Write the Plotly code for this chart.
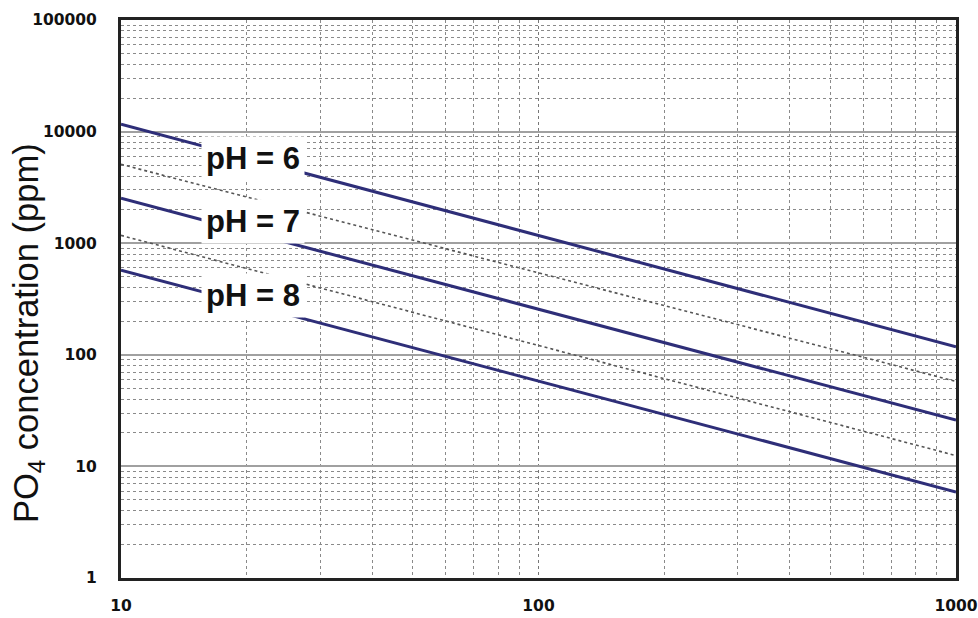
import plotly.graph_objects as go

# ---- data ----
x_ends = [10, 1000]
ph6 = [11650, 118]
ph7 = [2525, 26]
ph8 = [574, 5.9]
ph65 = [5090, 57.8]
ph75 = [1175, 12.5]

x_ticks = [10, 100, 1000]
x_ticktext = ["10", "100", "1000"]
y_ticks = [1, 10, 100, 1000, 10000, 100000]
y_ticktext = ["1", "10", "100", "1000", "10000", "100000"]

labels = ["pH = 6", "pH = 7", "pH = 8"]
label_x = [0.158, 0.158, 0.158]
label_y = [0.752, 0.638, 0.506]

NAVY = "#2E2E78"
DOT = "#555555"

fig = go.Figure()
for ys in (ph65, ph75):
    fig.add_trace(go.Scatter(x=x_ends, y=ys, mode="lines",
                             line=dict(color=DOT, width=1.6, dash="dot"),
                             showlegend=False, hoverinfo="skip"))
for ys in (ph6, ph7, ph8):
    fig.add_trace(go.Scatter(x=x_ends, y=ys, mode="lines",
                             line=dict(color=NAVY, width=3),
                             showlegend=False, hoverinfo="skip"))

for t, lx, ly in zip(labels, label_x, label_y):
    fig.add_annotation(x=lx, y=ly, xref="paper", yref="paper", text="<b>%s</b>" % t,
                       showarrow=False, xanchor="center", yanchor="middle",
                       bgcolor="white", borderpad=4,
                       font=dict(family="Liberation Sans", size=31, color="#111111"))

fig.add_annotation(x=-0.1114, y=0.439, xref="paper", yref="paper",
                   text="PO<sub>4</sub> concentration (ppm)", textangle=-90,
                   showarrow=False, xanchor="center", yanchor="middle",
                   font=dict(family="Liberation Sans", size=34.5, color="#111111"))

tickfont = dict(family="DejaVu Sans", size=15.5, color="#111111", weight="bold")

fig.update_xaxes(type="log", range=[1, 3], tickvals=x_ticks, ticktext=x_ticktext,
                 tickfont=tickfont, ticks="outside", ticklen=11, tickcolor="rgba(0,0,0,0)",
                 ticklabeloverflow="allow",
                 showline=True, mirror=True, linecolor="#222222", linewidth=3,
                 showgrid=True, gridcolor="#777777", gridwidth=1, griddash="dot",
                 minor=dict(dtick="D1", showgrid=True, gridcolor="#8a8a8a", gridwidth=1,
                            griddash="dot", ticks=""),
                 zeroline=False, automargin=False)
fig.update_yaxes(type="log", range=[0, 5], tickvals=y_ticks, ticktext=y_ticktext,
                 tickfont=tickfont, ticks="outside", ticklen=18, tickcolor="rgba(0,0,0,0)",
                 ticklabeloverflow="allow",
                 showline=True, mirror=True, linecolor="#222222", linewidth=3,
                 showgrid=True, gridcolor="#a0a0a0", gridwidth=2,
                 minor=dict(dtick="D1", showgrid=True, gridcolor="#8a8a8a", gridwidth=1,
                            griddash="dot", ticks=""),
                 zeroline=False, automargin=False)

fig.update_layout(width=978, height=618, margin=dict(l=121, r=22, t=20, b=40),
                  paper_bgcolor="white", plot_bgcolor="white")

fig.write_html("out.html", config={"displayModeBar": False},
               post_script="document.body.style.margin='0';document.body.style.overflow='hidden';")
